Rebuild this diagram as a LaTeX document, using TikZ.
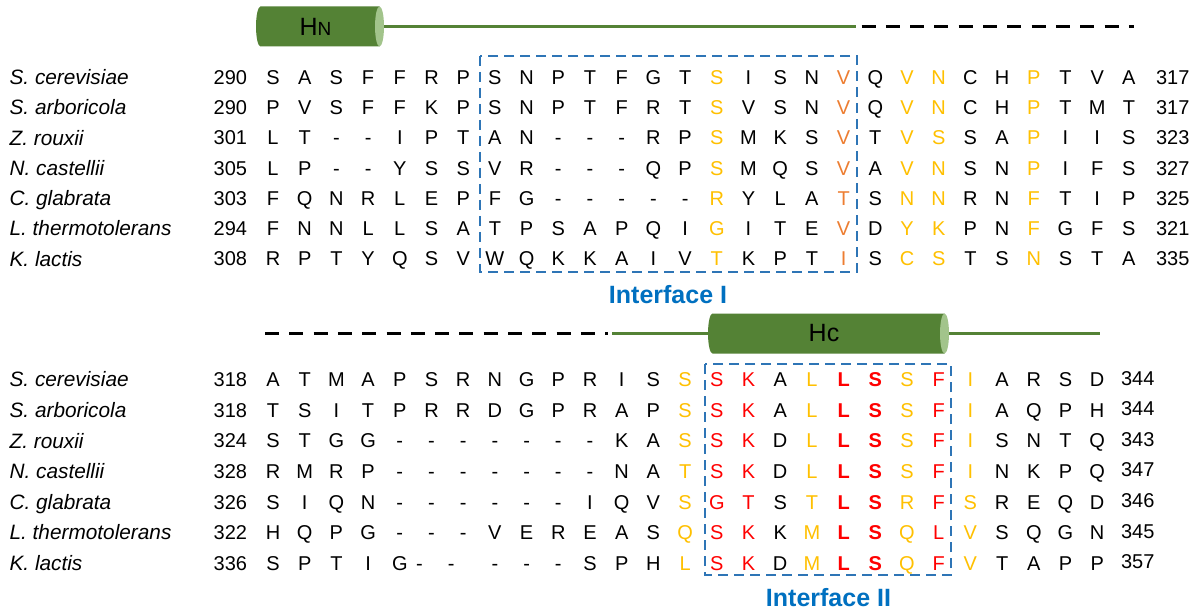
\documentclass[tikz,border=0pt]{standalone}
\usepackage{fontspec}
\setmainfont{Liberation Sans}
\definecolor{resYellow}{HTML}{FFC000}
\definecolor{resOrange}{HTML}{ED7D31}
\definecolor{resRed}{HTML}{FF0000}
\definecolor{boxBlue}{HTML}{2E75B6}
\definecolor{labelBlue}{HTML}{0070C0}
\definecolor{helixGreen}{HTML}{548235}
\definecolor{capGreen}{HTML}{A2C48B}

% one alignment row: name prefix, baseline y, list of residue/style pairs
\newcommand\alnrow[3]{%
  \foreach \res/\sty [count=\n from 0] in {#3}{%
    \node[\sty] (#1-\n) at ({273+31.7*\n},#2) {\res};}}

\begin{document}
\begin{tikzpicture}[x=1pt,y=-1pt,
  every node/.style={inner sep=0pt,outer sep=0pt},
  res/.style={font=\fontsize{20}{24}\selectfont,text height=14.3pt,text depth=0pt,anchor=center},
  cK/.style={res,text=black},
  cY/.style={res,text=resYellow},
  cO/.style={res,text=resOrange},
  cR/.style={res,text=resRed},
  cB/.style={res,text=resRed,font=\fontsize{20}{24}\selectfont\bfseries},
  cL/.style={res,text=black,xshift=-12pt},
  species/.style={font=\fontsize{20.8}{24}\selectfont\itshape,text height=14.9pt,text depth=0pt,anchor=west},
  posnum/.style={font=\fontsize{20}{24}\selectfont,text height=14.3pt,text depth=0pt},
  ifbox/.style={draw=boxBlue,line width=2.5pt,dash pattern=on 10pt off 6pt},
  iflabel/.style={font=\fontsize{25}{30}\selectfont\bfseries,text=labelBlue},
  helixline/.style={draw=helixGreen,line width=3pt},
  loopline/.style={draw=black,line width=3.5pt,dash pattern=on 14pt off 10.3pt},
  helixlabel/.style={font=\fontsize{25}{30}\selectfont,text=black}
]
\useasboundingbox (0,0) rectangle (1199,612);
\fill[white] (0,0) rectangle (1199,612);

% ---------- secondary structure, upper block ----------
\fill[helixGreen] (260.5,6.5) -- (379.5,6.5) -- (379.5,46.5) -- (260.5,46.5)
  arc[start angle=270,end angle=90,x radius=4.5pt,y radius=20pt] -- cycle;
\fill[capGreen] (379.5,26.5) ellipse[x radius=4.5pt,y radius=20pt];
\node[minimum width=128pt,minimum height=40pt] (hN) at (320,26.5) {};
\node[helixlabel] (hNtext) at (315.5,26.5) {H{\fontsize{19}{22}\selectfont N}};
\coordinate (hNend) at (856,26.5);
\coordinate (loopTopStart) at (861.5,26.5);
\coordinate (loopTopEnd) at (1133.5,26.5);
\draw[helixline] (hN.east) -- (hNend);
\draw[loopline] (loopTopStart) -- (loopTopEnd);

% ---------- upper alignment ----------
\draw[ifbox] (480,56) rectangle (857,272);
\node[iflabel] (ifOne) at (668,295) {Interface I};

\foreach \nm/\yy/\sp/\a/\b in {
  t1/77/S. cerevisiae/290/317,
  t2/107.3/S. arboricola/290/317,
  t3/137.6/Z. rouxii/301/323,
  t4/167.9/N. castellii/305/327,
  t5/198.2/C. glabrata/303/325,
  t6/228.5/L. thermotolerans/294/321,
  t7/258.8/K. lactis/308/335}{
  \node[species] (\nm-sp) at (9.6,\yy) {\sp};
  \node[posnum,anchor=east] (\nm-start) at (247,\yy) {\a};
  \node[posnum,anchor=west] (\nm-end) at (1156,\yy) {\b};
}

\alnrow{t1}{77}{S/cK,A/cK,S/cK,F/cK,F/cK,R/cK,P/cK,S/cK,N/cK,P/cK,T/cK,F/cK,G/cK,T/cK,S/cY,I/cK,S/cK,N/cK,V/cO,Q/cK,V/cY,N/cY,C/cK,H/cK,P/cY,T/cK,V/cK,A/cK}
\alnrow{t2}{107.3}{P/cK,V/cK,S/cK,F/cK,F/cK,K/cK,P/cK,S/cK,N/cK,P/cK,T/cK,F/cK,R/cK,T/cK,S/cY,V/cK,S/cK,N/cK,V/cO,Q/cK,V/cY,N/cY,C/cK,H/cK,P/cY,T/cK,M/cK,T/cK}
\alnrow{t3}{137.6}{L/cK,T/cK,-/cK,-/cK,I/cK,P/cK,T/cK,A/cK,N/cK,-/cK,-/cK,-/cK,R/cK,P/cK,S/cY,M/cK,K/cK,S/cK,V/cO,T/cK,V/cY,S/cY,S/cK,A/cK,P/cY,I/cK,I/cK,S/cK}
\alnrow{t4}{167.9}{L/cK,P/cK,-/cK,-/cK,Y/cK,S/cK,S/cK,V/cK,R/cK,-/cK,-/cK,-/cK,Q/cK,P/cK,S/cY,M/cK,Q/cK,S/cK,V/cO,A/cK,V/cY,N/cY,S/cK,N/cK,P/cY,I/cK,F/cK,S/cK}
\alnrow{t5}{198.2}{F/cK,Q/cK,N/cK,R/cK,L/cK,E/cK,P/cK,F/cK,G/cK,-/cK,-/cK,-/cK,-/cK,-/cK,R/cY,Y/cK,L/cK,A/cK,T/cO,S/cK,N/cY,N/cY,R/cK,N/cK,F/cY,T/cK,I/cK,P/cK}
\alnrow{t6}{228.5}{F/cK,N/cK,N/cK,L/cK,L/cK,S/cK,A/cK,T/cK,P/cK,S/cK,A/cK,P/cK,Q/cK,I/cK,G/cY,I/cK,T/cK,E/cK,V/cO,D/cK,Y/cY,K/cY,P/cK,N/cK,F/cY,G/cK,F/cK,S/cK}
\alnrow{t7}{258.8}{R/cK,P/cK,T/cK,Y/cK,Q/cK,S/cK,V/cK,W/cK,Q/cK,K/cK,K/cK,A/cK,I/cK,V/cK,T/cY,K/cK,P/cK,T/cK,I/cO,S/cK,C/cY,S/cY,T/cK,S/cK,N/cY,S/cK,T/cK,A/cK}

% ---------- secondary structure, lower block ----------
\coordinate (loopLowStart) at (265,333.5);
\coordinate (loopLowEnd) at (608,333.5);
\draw[loopline] (loopLowStart) -- (loopLowEnd);
\fill[helixGreen] (712.5,313.5) -- (944.5,313.5) -- (944.5,353.5) -- (712.5,353.5)
  arc[start angle=270,end angle=90,x radius=4.5pt,y radius=20pt] -- cycle;
\fill[capGreen] (944.5,333.5) ellipse[x radius=4.5pt,y radius=20pt];
\node[minimum width=241pt,minimum height=40pt] (hC) at (828.5,333.5) {};
\node[helixlabel] (hCtext) at (824,333.5) {Hc};
\coordinate (hCstart) at (612,333.5);
\coordinate (hCend) at (1100,333.5);
\draw[helixline] (hCstart) -- (hC.west);
\draw[helixline] (hC.east) -- (hCend);

% ---------- lower alignment ----------
\draw[ifbox] (705,364) rectangle (951,575);
\node[iflabel] (ifTwo) at (828.5,598) {Interface II};

\foreach \nm/\yy/\sp/\a/\b in {
  b1/379.5/S. cerevisiae/318/344,
  b2/410.1/S. arboricola/318/344,
  b3/440.7/Z. rouxii/324/343,
  b4/471.3/N. castellii/328/347,
  b5/501.9/C. glabrata/326/346,
  b6/532.5/L. thermotolerans/322/345,
  b7/563.1/K. lactis/336/357}{
  \node[species] (\nm-sp) at (9.6,\yy) {\sp};
  \node[posnum,anchor=east] (\nm-start) at (247,\yy) {\a};
  \node[posnum,anchor=west] (\nm-end) at (1121,\yy-1.5) {\b};
}

\alnrow{b1}{379.5}{A/cK,T/cK,M/cK,A/cK,P/cK,S/cK,R/cK,N/cK,G/cK,P/cK,R/cK,I/cK,S/cK,S/cY,S/cR,K/cR,A/cK,L/cY,L/cB,S/cB,S/cY,F/cR,I/cY,A/cK,R/cK,S/cK,D/cK}
\alnrow{b2}{410.1}{T/cK,S/cK,I/cK,T/cK,P/cK,R/cK,R/cK,D/cK,G/cK,P/cK,R/cK,A/cK,P/cK,S/cY,S/cR,K/cR,A/cK,L/cY,L/cB,S/cB,S/cY,F/cR,I/cY,A/cK,Q/cK,P/cK,H/cK}
\alnrow{b3}{440.7}{S/cK,T/cK,G/cK,G/cK,-/cK,-/cK,-/cK,-/cK,-/cK,-/cK,-/cK,K/cK,A/cK,S/cY,S/cR,K/cR,D/cK,L/cY,L/cB,S/cB,S/cY,F/cR,I/cY,S/cK,N/cK,T/cK,Q/cK}
\alnrow{b4}{471.3}{R/cK,M/cK,R/cK,P/cK,-/cK,-/cK,-/cK,-/cK,-/cK,-/cK,-/cK,N/cK,A/cK,T/cY,S/cR,K/cR,D/cK,L/cY,L/cB,S/cB,S/cY,F/cR,I/cY,N/cK,K/cK,P/cK,Q/cK}
\alnrow{b5}{501.9}{S/cK,I/cK,Q/cK,N/cK,-/cK,-/cK,-/cK,-/cK,-/cK,-/cK,I/cK,Q/cK,V/cK,S/cY,G/cR,T/cR,S/cK,T/cY,L/cB,S/cB,R/cY,F/cR,S/cY,R/cK,E/cK,Q/cK,D/cK}
\alnrow{b6}{532.5}{H/cK,Q/cK,P/cK,G/cK,-/cK,-/cK,-/cK,V/cK,E/cK,R/cK,E/cK,A/cK,S/cK,Q/cY,S/cR,K/cR,K/cK,M/cY,L/cB,S/cB,Q/cY,L/cR,V/cY,S/cK,Q/cK,G/cK,N/cK}
\alnrow{b7}{563.1}{S/cK,P/cK,T/cK,I/cK,G/cK,-/cL,-/cL,-/cK,-/cK,-/cK,S/cK,P/cK,H/cK,L/cY,S/cR,K/cR,D/cK,M/cY,L/cB,S/cB,Q/cY,F/cR,V/cY,T/cK,A/cK,P/cK,P/cK}
\end{tikzpicture}
\end{document}
